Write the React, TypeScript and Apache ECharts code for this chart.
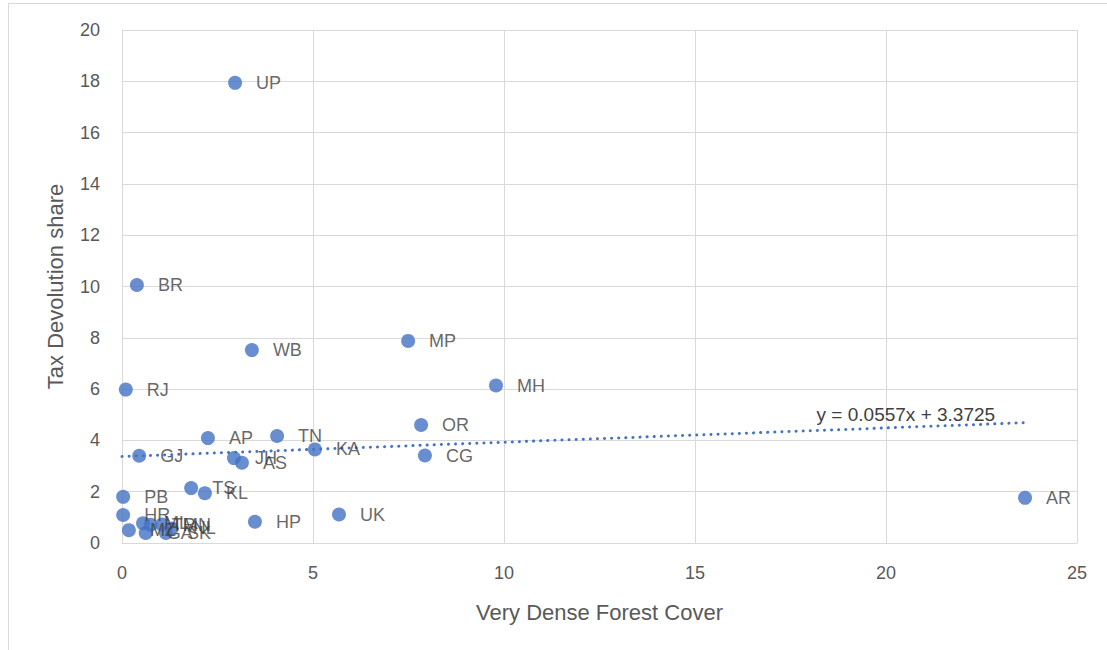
import React, { useEffect, useRef } from "react";
import * as echarts from "echarts";

// State codes, very dense forest cover, and tax devolution share
const states = ["UP", "BR", "MP", "WB", "RJ", "MH", "OR", "AP", "TN", "KA", "CG", "GJ", "JH", "AS", "TS", "KL", "PB", "HR", "HP", "UK", "AR", "MZ", "ML", "GA", "TR", "MN", "SK", "NL"];
const forestCover = [2.96, 0.39, 7.49, 3.40, 0.10, 9.79, 7.83, 2.25, 4.06, 5.05, 7.93, 0.45, 2.93, 3.14, 1.81, 2.17, 0.03, 0.03, 3.48, 5.68, 23.64, 0.18, 0.55, 0.62, 0.75, 1.05, 1.15, 1.30];
const taxShare = [17.94, 10.06, 7.88, 7.52, 5.98, 6.14, 4.60, 4.09, 4.17, 3.65, 3.41, 3.40, 3.31, 3.13, 2.14, 1.94, 1.80, 1.09, 0.83, 1.11, 1.76, 0.50, 0.77, 0.39, 0.71, 0.72, 0.39, 0.57];

// Linear trendline
const slope = 0.0557;
const intercept = 3.3725;
const trendEquation = "y = 0.0557x + 3.3725";

const xTicks = { min: 0, max: 25, interval: 5 };
const yTicks = { min: 0, max: 20, interval: 2 };

const FONT = "Liberation Sans";

export default function App() {
  const ref = useRef<HTMLDivElement>(null);

  useEffect(() => {
    if (!ref.current) return;
    const chart = echarts.init(ref.current, null, { renderer: "svg" });
    const points = states.map((s, i) => ({ name: s, value: [forestCover[i], taxShare[i]] }));
    const xEnd = Math.max(...forestCover);
    const trend = [
      [0, intercept],
      [xEnd, intercept + slope * xEnd],
    ];
    const labelX = xEnd * 0.868;
    chart.setOption({
      animation: false,
      backgroundColor: "#ffffff",
      textStyle: { fontFamily: FONT },
      grid: { left: 122, right: 30, top: 30, bottom: 107 },
      graphic: [
        {
          type: "rect",
          shape: { x: 8.5, y: 3.5, width: 1120, height: 670 },
          style: { fill: "none", stroke: "#d9d9d9", lineWidth: 1 },
          silent: true,
        },
      ],
      xAxis: {
        type: "value",
        min: xTicks.min,
        max: xTicks.max,
        interval: xTicks.interval,
        name: "Very Dense Forest Cover",
        nameLocation: "middle",
        nameGap: 58,
        nameTextStyle: { fontSize: 22, color: "#595959", fontFamily: FONT },
        axisLine: { show: true, lineStyle: { color: "#d9d9d9" } },
        axisTick: { show: false },
        axisLabel: { fontSize: 18, color: "#595959", margin: 21, fontFamily: FONT },
        splitLine: { show: true, lineStyle: { color: "#d9d9d9", width: 1 } },
      },
      yAxis: {
        type: "value",
        min: yTicks.min,
        max: yTicks.max,
        interval: yTicks.interval,
        name: "Tax Devolution share",
        nameLocation: "middle",
        nameGap: 56,
        nameTextStyle: { fontSize: 22, color: "#595959", fontFamily: FONT },
        axisLine: { show: true, lineStyle: { color: "#d9d9d9" } },
        axisTick: { show: false },
        axisLabel: { fontSize: 18, color: "#595959", margin: 22, fontFamily: FONT },
        splitLine: { show: true, lineStyle: { color: "#d9d9d9", width: 1 } },
      },
      series: [
        {
          type: "line",
          data: trend,
          showSymbol: false,
          symbol: "none",
          silent: true,
          lineStyle: { color: "#4472c4", width: 3, type: [0.1, 7], cap: "round" },
          z: 1,
          markPoint: {
            symbol: "circle",
            symbolSize: 0,
            data: [
              {
                coord: [labelX, intercept + slope * labelX],
                label: {
                  show: true,
                  formatter: trendEquation,
                  color: "#404040",
                  fontSize: 19,
                  fontFamily: FONT,
                  position: "top",
                  distance: 3,
                },
              },
            ],
          },
        },
        {
          type: "scatter",
          data: points,
          symbol: "circle",
          symbolSize: 14,
          itemStyle: { color: "#4472c4" },
          z: 3,
          label: {
            show: true,
            position: "right",
            distance: 14,
            offset: [0, 3],
            formatter: (p: any) => p.name,
            color: "#404040",
            fontSize: 18,
            fontFamily: FONT,
          },
          labelLayout: { hideOverlap: false },
        },
      ],
    });
    return () => chart.dispose();
  }, []);

  return (
    <div
      ref={ref}
      style={{ position: "fixed", left: 0, top: 0, width: 1107, height: 650 }}
    />
  );
}
